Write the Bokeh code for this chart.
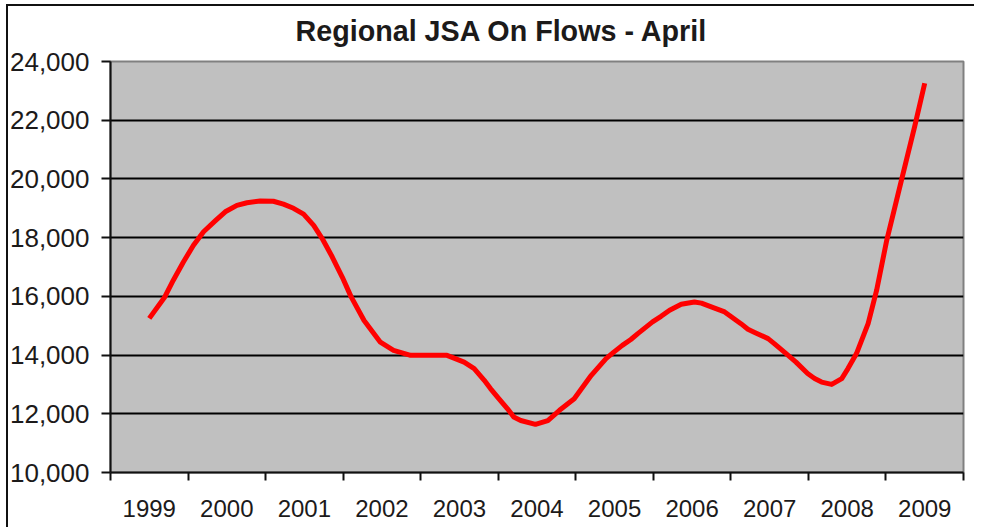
from bokeh.plotting import figure
from bokeh.layouts import column
from bokeh.models import FixedTicker, NumeralTickFormatter, Range1d
from bokeh.embed import file_html
from bokeh.resources import INLINE

# Category labels (years) and tick values
years = [1999, 2000, 2001, 2002, 2003, 2004, 2005, 2006, 2007, 2008, 2009]
year_labels = [str(y) for y in years]
y_ticks = [10000, 12000, 14000, 16000, 18000, 20000, 22000, 24000]
grid_ticks = [12000, 14000, 16000, 18000, 20000, 22000]

# Series (position in years, JSA on-flow value)
pos = [1999.0, 1999.2, 1999.31, 1999.44, 1999.57, 1999.7, 1999.85, 1999.98,
       2000.13, 2000.26, 2000.43, 2000.6, 2000.73, 2000.86, 2000.99, 2001.12,
       2001.23, 2001.36, 2001.49, 2001.6, 2001.77, 2001.98, 2002.15, 2002.37,
       2002.6, 2002.84, 2003.06, 2003.19, 2003.32, 2003.4, 2003.51, 2003.62,
       2003.7, 2003.79, 2003.98, 2004.14, 2004.29, 2004.48, 2004.59, 2004.7,
       2004.89, 2004.99, 2005.1, 2005.21, 2005.3, 2005.49, 2005.6, 2005.71,
       2005.86, 2006.03, 2006.12, 2006.29, 2006.42, 2006.63, 2006.72, 2006.8,
       2006.98, 2007.06, 2007.19, 2007.34, 2007.49, 2007.58, 2007.67, 2007.8,
       2007.93, 2008.01, 2008.12, 2008.27, 2008.38, 2008.51, 2008.7, 2008.87,
       2009.0]
vals = [15250, 15980, 16550, 17170, 17740, 18200, 18570, 18880,
        19100, 19190, 19250, 19240, 19140, 19000, 18800, 18420,
        17970, 17340, 16650, 16000, 15180, 14440, 14160, 13990,
        13990, 13990, 13760, 13540, 13140, 12860, 12510, 12170,
        11890, 11770, 11640, 11770, 12120, 12510, 12910, 13310,
        13880, 14100, 14330, 14530, 14730, 15130, 15320, 15530,
        15730, 15810, 15770, 15600, 15470, 15070, 14880, 14780,
        14560, 14390, 14100, 13760, 13370, 13200, 13080, 13000,
        13200, 13540, 14050, 15070, 16210, 17910, 19960, 21780,
        23260]

FONT = "Liberation Sans"
TXT = "#1c1a1a"

p = figure(width=974, height=527, output_backend="svg", toolbar_location=None,
           x_range=Range1d(1998.5, 2009.5), y_range=Range1d(10000, 24000),
           min_border_left=110, min_border_right=11, min_border_top=61,
           min_border_bottom=55, title="Regional JSA On Flows - April")

p.background_fill_color = "#C0C0C0"
p.border_fill_color = None
p.outline_line_color = "#808080"
p.outline_line_width = 2

p.title.text_font = FONT
p.title.text_font_size = "28.7px"
p.title.text_font_style = "bold"
p.title.text_color = TXT
p.title.align = "left"
p.title.offset = 185
p.title.vertical_align = "top"
p.title.standoff = 26

# x axis: labels at category centres, ticks at category boundaries
xa = p.xaxis[0]
xa.ticker = FixedTicker(ticks=years, minor_ticks=[y - 0.5 for y in years] + [2009.5])
xa.major_label_overrides = {y: l for y, l in zip(years, year_labels)}
xa.major_tick_out = 0
xa.major_tick_in = 0
xa.minor_tick_out = 8
xa.minor_tick_in = 0
xa.minor_tick_line_color = "#111111"
xa.minor_tick_line_width = 2
xa.axis_line_color = "#111111"
xa.axis_line_width = 2
xa.major_label_text_font = FONT
xa.major_label_text_font_size = "24px"
xa.major_label_text_color = TXT
xa.major_label_standoff = 19

ya = p.yaxis[0]
ya.ticker = FixedTicker(ticks=y_ticks)
ya.formatter = NumeralTickFormatter(format="0,0")
ya.major_tick_out = 9
ya.major_tick_in = 0
ya.major_tick_line_color = "#111111"
ya.major_tick_line_width = 2
ya.minor_tick_line_color = None
ya.axis_line_color = "#111111"
ya.axis_line_width = 2
ya.major_label_text_font = FONT
ya.major_label_text_font_size = "26px"
ya.major_label_text_color = TXT
ya.major_label_standoff = 12

p.xgrid.grid_line_color = None
p.ygrid.ticker = FixedTicker(ticks=grid_ticks)
p.ygrid.grid_line_color = "black"
p.ygrid.grid_line_width = 2

p.line(pos, vals, line_color="#FF0000", line_width=5, line_join="round", line_cap="butt")

# chart-area border (top and left edges) painted on a wrapping layout, behind the plot
layout = column(p, width=974, height=527,
                styles={"background": "linear-gradient(#111111, #111111) 6px 4px / 100% 2px no-repeat, "
                                      "linear-gradient(#111111, #111111) 6px 4px / 2px 100% no-repeat, #ffffff"})

open("out.html", "w").write(file_html(layout, INLINE))
